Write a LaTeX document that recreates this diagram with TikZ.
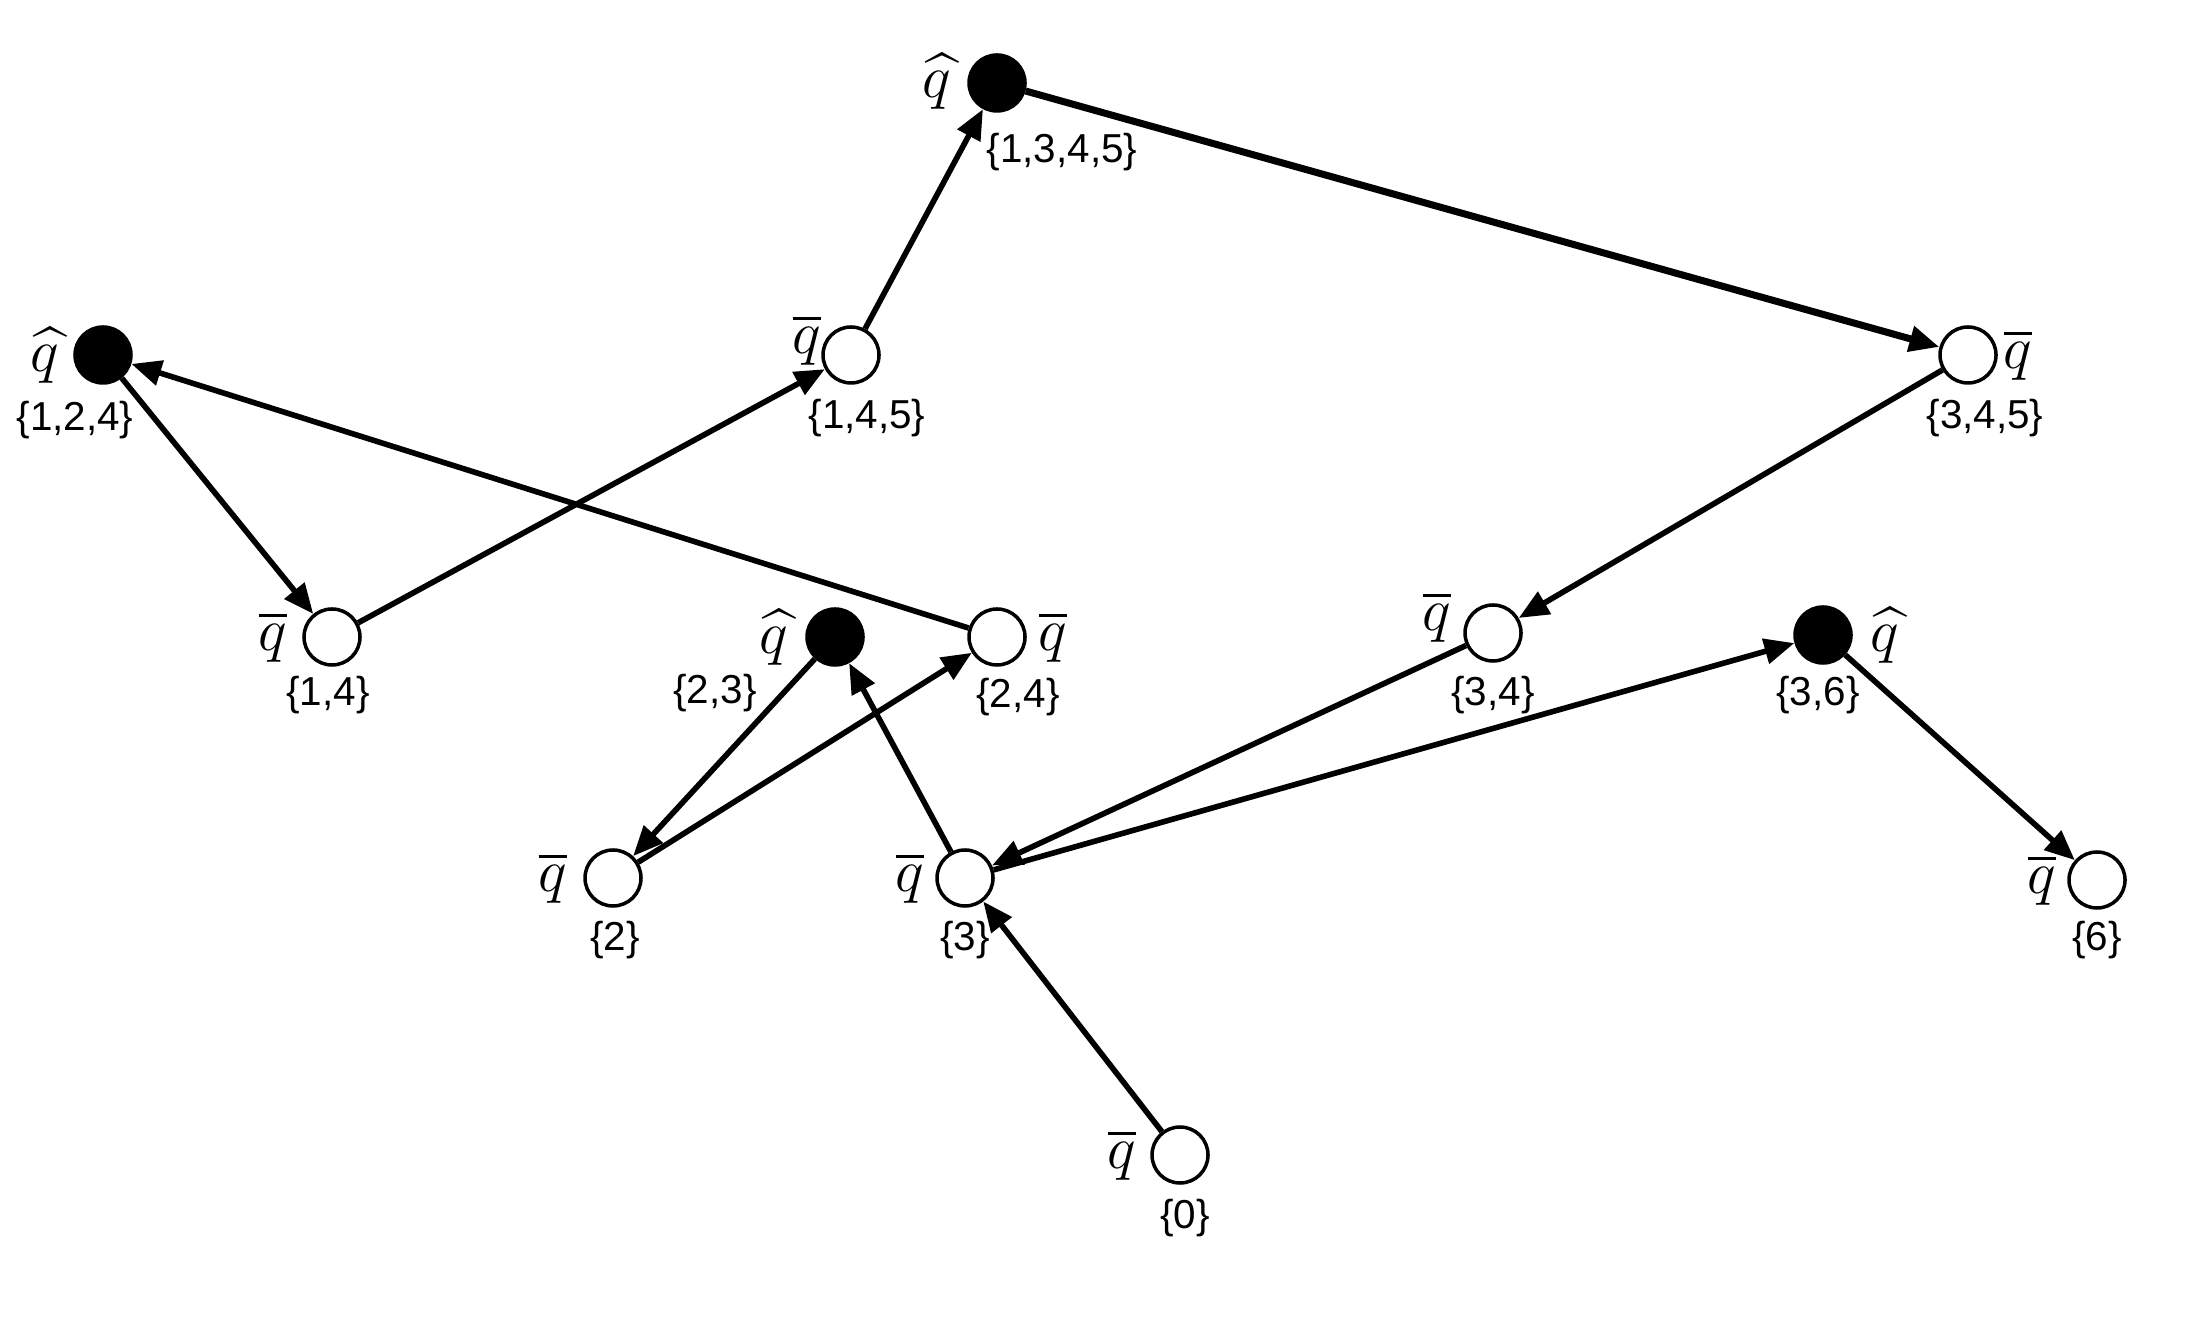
\documentclass[tikz,border=0pt]{standalone}
\usepackage{amsmath}
\usepackage{fontspec}
\setmainfont{Liberation Sans}
\usetikzlibrary{arrows.meta,positioning,calc}
\tikzstyle{open} = [draw, fill=white, shape=circle, line width=1pt, minimum size=0.56cm, inner sep=0pt]
\tikzstyle{closed} = [draw, fill=black, shape=circle, line width=1pt, minimum size=0.56cm, inner sep=0pt]
\tikzstyle{qlab} = [font=\fontsize{16}{18}\selectfont, inner sep=0pt]
\tikzstyle{setlab} = [font=\fontsize{11.5}{13}\selectfont, inner sep=0pt]
\tikzstyle{Arrow} = [-{Triangle[length=0.3cm,width=0.25cm]}, line width=1.6pt]

\begin{document}
\begin{tikzpicture}
            \useasboundingbox (0,0) rectangle (21.92,13.28);
            %%%%% States %%%%%
            \draw (9.97,12.45) node[closed] (A) {};
            \draw (1.03,9.73) node[closed] (B) {};
            \draw (8.51,9.73) node[open] (C) {};
            \draw (19.68,9.73) node[open] (D) {};
            \draw (3.32,6.91) node[open] (E) {};
            \draw (8.35,6.91) node[closed] (F) {};
            \draw (9.97,6.91) node[open] (G) {};
            \draw (14.93,6.95) node[open] (H) {};
            \draw (18.23,6.93) node[closed] (I) {};
            \draw (6.13,4.50) node[open] (J) {};
            \draw (9.65,4.50) node[open] (K) {};
            \draw (20.97,4.48) node[open] (L) {};
            \draw (11.80,1.73) node[open] (M) {};
            %%%%% Labels %%%%%
            \node[qlab] (Aq) at ($(A)+(-0.6,0.02)$) {$\widehat{q}$};
            \node[setlab] (As) at ($(A)+(0.65,-0.69)$) {\{1,3,4,5\}};
            \node[qlab] (Bq) at ($(B)+(-0.58,0)$) {$\widehat{q}$};
            \node[setlab] (Bs) at ($(B)+(-0.28,-0.65)$) {\{1,2,4\}};
            \node[qlab] (Cq) at ($(C)+(-0.44,0.15)$) {$\overline{q}$};
            \node[setlab] (Cs) at ($(C)+(0.16,-0.63)$) {\{1,4,5\}};
            \node[qlab] (Dq) at ($(D)+(0.5,0)$) {$\overline{q}$};
            \node[setlab] (Ds) at ($(D)+(0.17,-0.63)$) {\{3,4,5\}};
            \node[qlab] (Eq) at ($(E)+(-0.59,0)$) {$\overline{q}$};
            \node[setlab] (Es) at ($(E)+(-0.04,-0.58)$) {\{1,4\}};
            \node[qlab] (Fq) at ($(F)+(-0.61,0)$) {$\widehat{q}$};
            \node[setlab] (Fs) at ($(F)+(-1.2,-0.56)$) {\{2,3\}};
            \node[qlab] (Gq) at ($(G)+(0.56,0)$) {$\overline{q}$};
            \node[setlab] (Gs) at ($(G)+(0.21,-0.6)$) {\{2,4\}};
            \node[qlab] (Hq) at ($(H)+(-0.56,0.16)$) {$\overline{q}$};
            \node[setlab] (Hs) at ($(H)+(0,-0.62)$) {\{3,4\}};
            \node[qlab] (Iq) at ($(I)+(0.62,0)$) {$\widehat{q}$};
            \node[setlab] (Is) at ($(I)+(-0.05,-0.6)$) {\{3,6\}};
            \node[qlab] (Jq) at ($(J)+(-0.6,0)$) {$\overline{q}$};
            \node[setlab] (Js) at ($(J)+(0.02,-0.62)$) {\{2\}};
            \node[qlab] (Kq) at ($(K)+(-0.55,0)$) {$\overline{q}$};
            \node[setlab] (Ks) at ($(K)+(0,-0.62)$) {\{3\}};
            \node[qlab] (Lq) at ($(L)+(-0.55,0)$) {$\overline{q}$};
            \node[setlab] (Ls) at ($(L)+(0,-0.6)$) {\{6\}};
            \node[qlab] (Mq) at ($(M)+(-0.58,0)$) {$\overline{q}$};
            \node[setlab] (Ms) at ($(M)+(0.05,-0.63)$) {\{0\}};
            %%%%% Edges %%%%%
            \draw [Arrow] (M) -- (K);
            \draw [Arrow] (K) -- (F);
            \draw [Arrow] (F) -- (J);
            \draw [Arrow] (J) -- (G);
            \draw [Arrow] (G) -- (B);
            \draw [Arrow] (B) -- (E);
            \draw [Arrow] (E) -- (C);
            \draw [Arrow] (C) -- (A);
            \draw [Arrow, line width=2pt] (A) -- (D);
            \draw [Arrow] (D) -- (H);
            \draw [Arrow] (H) -- (K);
            \draw [Arrow] (K) -- (I);
            \draw [Arrow] (I) -- (L);
        \end{tikzpicture}
\end{document}
